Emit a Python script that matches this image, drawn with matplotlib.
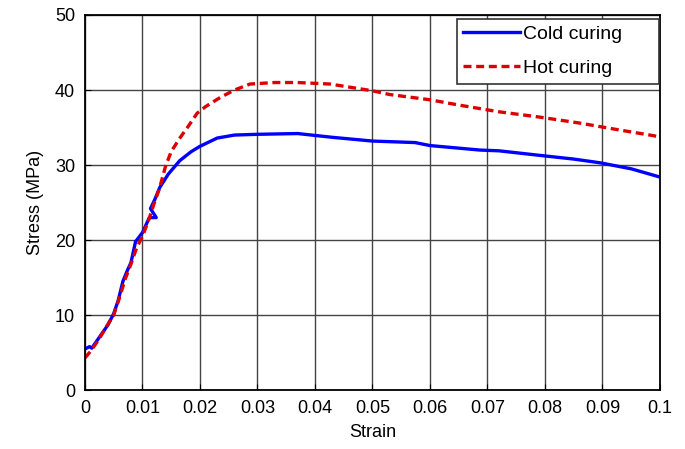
import matplotlib.pyplot as plt
import numpy as np

plt.rcParams['font.family'] = ['Liberation Sans', 'DejaVu Sans']

# Cold curing curve
cold_strain = [0.0, 0.0008, 0.0012, 0.0020, 0.0030, 0.0040, 0.0050, 0.0058, 0.0066,
               0.0074, 0.0080, 0.0088, 0.0094, 0.0100, 0.0106, 0.0112, 0.0124, 0.0114,
               0.0122, 0.0130, 0.0145, 0.0165, 0.0185, 0.0200, 0.0230, 0.0260, 0.0300,
               0.0370, 0.0430, 0.0500, 0.0574, 0.0600, 0.0687, 0.0720, 0.0790,
               0.0850, 0.0896, 0.0950, 0.1000]
cold_stress = [5.5, 5.8, 5.6, 6.5, 7.6, 8.7, 10.2, 12.0, 14.5,
               16.0, 17.0, 19.8, 20.4, 21.0, 22.0, 23.0, 23.0, 24.2,
               25.5, 27.0, 28.8, 30.6, 31.8, 32.5, 33.6, 34.0, 34.1,
               34.2, 33.7, 33.2, 33.0, 32.6, 32.0, 31.9, 31.3,
               30.8, 30.3, 29.5, 28.4]

# Hot curing curve
hot_strain = [0.0, 0.001, 0.002, 0.003, 0.004, 0.005, 0.006, 0.007, 0.008,
              0.009, 0.010, 0.011, 0.012, 0.013, 0.014, 0.0150, 0.0165, 0.0180,
              0.0195, 0.0210, 0.0235, 0.0260, 0.0287, 0.0330, 0.0370, 0.0426,
              0.0500, 0.0530, 0.0600, 0.0650, 0.0720, 0.0790, 0.0860, 0.0920,
              0.0990, 0.1000]
hot_stress = [4.3, 5.2, 6.3, 7.5, 8.8, 10.0, 12.3, 14.8, 16.8,
              19.0, 20.5, 22.5, 24.8, 27.0, 29.8, 31.8, 33.6, 35.2,
              36.9, 37.8, 39.0, 40.0, 40.8, 41.0, 41.0, 40.8,
              39.9, 39.4, 38.7, 38.0, 37.1, 36.4, 35.6, 34.8,
              33.9, 33.7]

fig = plt.figure(figsize=(6.85, 4.49), dpi=100)
ax = fig.add_axes([0.124, 0.131, 0.8395, 0.8356])

ax.plot(cold_strain, cold_stress, color='#0000ff', lw=2.4, label='Cold curing')
ax.plot(hot_strain, hot_stress, color='#dd0000', lw=2.4, ls=(0, (2.4, 1.4)), label='Hot curing')

ax.set_xlim(0, 0.1)
ax.set_ylim(0, 50)
ax.set_xticks(np.arange(0, 0.1001, 0.01))
ax.set_xticklabels(['0', '0.01', '0.02', '0.03', '0.04', '0.05', '0.06', '0.07', '0.08', '0.09', '0.1'])
ax.set_yticks([0, 10, 20, 30, 40, 50])
ax.tick_params(labelsize=13, direction='in', length=4, pad=7, color='black')
ax.grid(True, color='#444444', lw=1.0)
for s in ax.spines.values():
    s.set_linewidth(1.3)

ax.set_xlabel('Strain', fontsize=13, labelpad=5)
ax.set_ylabel('Stress (MPa)', fontsize=13, labelpad=8)

# legend box stretched to the width seen in the reference
leg = ax.legend(loc='upper left', bbox_to_anchor=(0.647, 0.5, 0.351, 0.489),
                mode='expand', fontsize=14, fancybox=False, framealpha=1,
                edgecolor='#333333', handlelength=2.9, borderpad=0.33,
                labelspacing=0.85, handletextpad=0.15, borderaxespad=0)
leg.get_frame().set_linewidth(1.2)

fig.savefig('out.png', dpi=100)
